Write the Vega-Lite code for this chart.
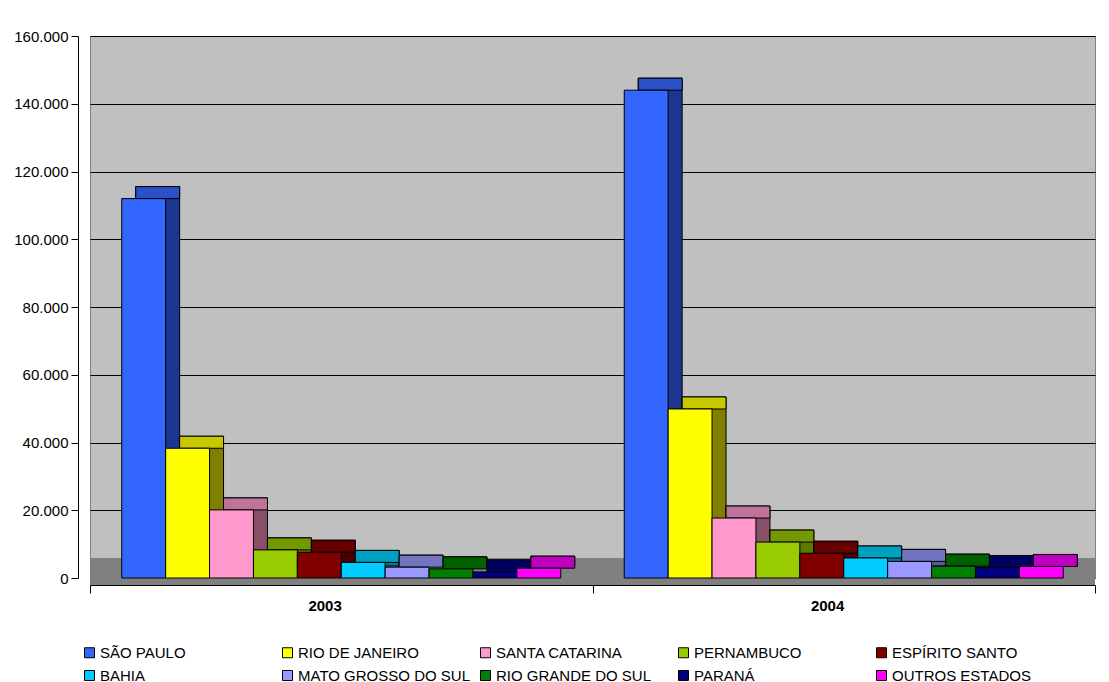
{
  "$schema": "https://vega.github.io/schema/vega-lite/v6.json",
  "width": 1005,
  "height": 542,
  "autosize": {"type": "none"},
  "padding": {"left": 90, "top": 36, "right": 14, "bottom": 104},
  "background": "white",
  "config": {
    "font": "Liberation Sans",
    "view": {"fill": "#C0C0C0", "stroke": "#808080"}
  },
  "data": {
    "values": [
      {"ano": "2003", "estado": "SÃO PAULO", "valor": 112000},
      {"ano": "2003", "estado": "RIO DE JANEIRO", "valor": 38300},
      {"ano": "2003", "estado": "SANTA CATARINA", "valor": 20100},
      {"ano": "2003", "estado": "PERNAMBUCO", "valor": 8300},
      {"ano": "2003", "estado": "ESPÍRITO SANTO", "valor": 7600},
      {"ano": "2003", "estado": "BAHIA", "valor": 4600},
      {"ano": "2003", "estado": "MATO GROSSO DO SUL", "valor": 3200},
      {"ano": "2003", "estado": "RIO GRANDE DO SUL", "valor": 2700},
      {"ano": "2003", "estado": "PARANÁ", "valor": 1800},
      {"ano": "2003", "estado": "OUTROS ESTADOS", "valor": 2900},
      {"ano": "2004", "estado": "SÃO PAULO", "valor": 144000},
      {"ano": "2004", "estado": "RIO DE JANEIRO", "valor": 49900},
      {"ano": "2004", "estado": "SANTA CATARINA", "valor": 17700},
      {"ano": "2004", "estado": "PERNAMBUCO", "valor": 10600},
      {"ano": "2004", "estado": "ESPÍRITO SANTO", "valor": 7300},
      {"ano": "2004", "estado": "BAHIA", "valor": 5900},
      {"ano": "2004", "estado": "MATO GROSSO DO SUL", "valor": 4900},
      {"ano": "2004", "estado": "RIO GRANDE DO SUL", "valor": 3500},
      {"ano": "2004", "estado": "PARANÁ", "valor": 3100},
      {"ano": "2004", "estado": "OUTROS ESTADOS", "valor": 3400}
    ]
  },
  "layer": [
    {
      "data": {"values": [{"piso": "piso"}]},
      "mark": {"type": "rect", "color": "#808080"},
      "encoding": {
        "y": {"datum": -2065, "type": "quantitative"},
        "y2": {"datum": 5900}
      }
    },
    {
      "mark": {"type": "bar", "stroke": "black", "strokeWidth": 1, "yOffset": -12, "y2Offset": -12},
      "encoding": {
        "x": {"field": "ano", "type": "nominal"},
        "xOffset": {
          "field": "estado", "type": "nominal",
          "sort": ["SÃO PAULO", "RIO DE JANEIRO", "SANTA CATARINA", "PERNAMBUCO", "ESPÍRITO SANTO", "BAHIA", "MATO GROSSO DO SUL", "RIO GRANDE DO SUL", "PARANÁ", "OUTROS ESTADOS"],
          "scale": {"paddingInner": 0, "paddingOuter": 0.723, "range": [14, 516.5]}
        },
        "y": {"field": "valor", "type": "quantitative", "stack": null},
        "y2": {"datum": 0},
        "color": {
          "field": "estado", "type": "nominal", "legend": null,
          "scale": {
            "domain": ["SÃO PAULO", "RIO DE JANEIRO", "SANTA CATARINA", "PERNAMBUCO", "ESPÍRITO SANTO", "BAHIA", "MATO GROSSO DO SUL", "RIO GRANDE DO SUL", "PARANÁ", "OUTROS ESTADOS"],
            "range": ["#1C3590", "#808000", "#875068", "#5C7A00", "#4A0000", "#007A99", "#5A5A99", "#004A00", "#00004A", "#800080"]
          }
        }
      }
    },
    {
      "mark": {"type": "bar", "stroke": "black", "strokeWidth": 1, "yOffset": -12, "y2Offset": 0},
      "encoding": {
        "x": {"field": "ano", "type": "nominal"},
        "xOffset": {
          "field": "estado", "type": "nominal",
          "sort": ["SÃO PAULO", "RIO DE JANEIRO", "SANTA CATARINA", "PERNAMBUCO", "ESPÍRITO SANTO", "BAHIA", "MATO GROSSO DO SUL", "RIO GRANDE DO SUL", "PARANÁ", "OUTROS ESTADOS"],
          "scale": {"paddingInner": 0, "paddingOuter": 0.723, "range": [14, 516.5]}
        },
        "y": {"field": "valor", "type": "quantitative", "stack": null},
        "y2": {"field": "valor"},
        "color": {
          "field": "estado", "type": "nominal", "legend": null,
          "scale": {
            "domain": ["SÃO PAULO", "RIO DE JANEIRO", "SANTA CATARINA", "PERNAMBUCO", "ESPÍRITO SANTO", "BAHIA", "MATO GROSSO DO SUL", "RIO GRANDE DO SUL", "PARANÁ", "OUTROS ESTADOS"],
            "range": ["#2B50C8", "#C8C800", "#C07399", "#739900", "#660000", "#00A0C0", "#7373C0", "#006000", "#000060", "#C000C0"]
          }
        }
      }
    },
    {
      "mark": {"type": "bar", "stroke": "black", "strokeWidth": 1},
      "encoding": {
        "x": {
          "field": "ano", "type": "nominal",
          "scale": {"paddingInner": 0, "paddingOuter": 0},
          "axis": {
            "title": null, "labelAngle": 0, "offset": 7, "labelFontSize": 15, "labelFontWeight": "bold",
            "labelColor": "black", "tickBand": "extent", "tickSize": 8, "tickColor": "black",
            "domainColor": "black", "labelPadding": 12, "grid": false
          }
        },
        "xOffset": {
          "field": "estado", "type": "nominal",
          "sort": ["SÃO PAULO", "RIO DE JANEIRO", "SANTA CATARINA", "PERNAMBUCO", "ESPÍRITO SANTO", "BAHIA", "MATO GROSSO DO SUL", "RIO GRANDE DO SUL", "PARANÁ", "OUTROS ESTADOS"],
          "scale": {"paddingInner": 0, "paddingOuter": 0.723, "range": [0, 502.5]}
        },
        "y": {
          "field": "valor", "type": "quantitative", "stack": null,
          "scale": {"domain": [0, 160000], "nice": false, "zero": true},
          "axis": {
            "title": null, "offset": 12, "values": [0, 20000, 40000, 60000, 80000, 100000, 120000, 140000, 160000],
            "labelExpr": "replace(format(datum.value, ','), ',', '.')",
            "labelFontSize": 15, "labelColor": "black", "tickColor": "black", "tickSize": 7,
            "domainColor": "black", "grid": true, "gridColor": "black", "gridWidth": 1, "gridOpacity": 1, "labelPadding": 3
          }
        },
        "color": {
          "field": "estado", "type": "nominal",
          "scale": {
            "domain": ["SÃO PAULO", "RIO DE JANEIRO", "SANTA CATARINA", "PERNAMBUCO", "ESPÍRITO SANTO", "BAHIA", "MATO GROSSO DO SUL", "RIO GRANDE DO SUL", "PARANÁ", "OUTROS ESTADOS"],
            "range": ["#3366FF", "#FFFF00", "#FF99CC", "#99CC00", "#800000", "#00CCFF", "#9999FF", "#008000", "#000080", "#FF00FF"]
          },
          "legend": {
            "title": null, "orient": "none", "legendX": -8, "legendY": 609, "columns": 5, "direction": "horizontal",
            "symbolType": "square", "symbolSize": 100, "symbolStrokeColor": "black", "symbolStrokeWidth": 1,
            "symbolOpacity": 1, "labelFontSize": 15, "labelLimit": 300, "labelColor": "black", "labelOffset": 3,
            "gridAlign": "all", "columnPadding": 8, "rowPadding": 7
          }
        }
      }
    }
  ],
  "resolve": {"scale": {"color": "independent", "xOffset": "independent"}}
}
